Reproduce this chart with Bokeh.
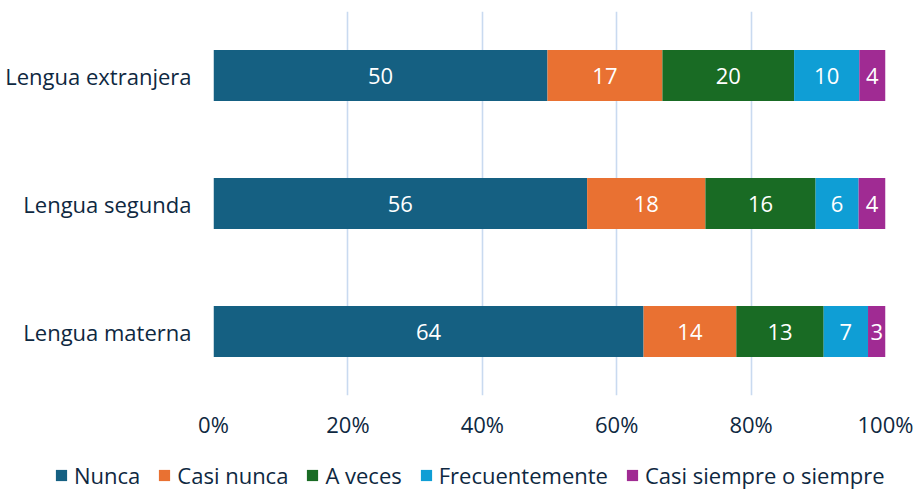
from bokeh.plotting import figure
from bokeh.layouts import column
from bokeh.models import ColumnDataSource, FactorRange, Range1d, FixedTicker, PrintfTickFormatter, Legend
from bokeh.core.properties import value
from bokeh.embed import file_html
from bokeh.resources import INLINE

# ---- data ----
categories = ["Lengua extranjera", "Lengua segunda", "Lengua materna"]
series = ["Nunca", "Casi nunca", "A veces", "Frecuentemente", "Casi siempre o siempre"]
nunca = [49.7, 55.6, 64.0]
casi_nunca = [17.1, 17.6, 13.8]
a_veces = [19.6, 16.4, 13.0]
frecuentemente = [9.7, 6.4, 6.6]
casi_siempre = [3.9, 4.0, 2.6]
x_ticks = [0, 20, 40, 60, 80, 100]
colors = ["#156082", "#E97132", "#196B24", "#0F9ED5", "#A02B93"]

FONT = "Open Sans"
TXT = "#0E2841"

vals = [nunca, casi_nunca, a_veces, frecuentemente, casi_siempre]
keys = ["s0", "s1", "s2", "s3", "s4"]
data = {"cat": categories}
for k, v in zip(keys, vals):
    data[k] = v
source = ColumnDataSource(data)

yr = FactorRange(factors=categories[::-1], range_padding=0)
xr = Range1d(0, 100)

p = figure(width=918, height=450, output_backend="svg", toolbar_location=None,
           y_range=yr, x_range=xr,
           min_border_left=213, min_border_right=33, min_border_top=11, min_border_bottom=55)
p.frame_align = False

renderers = p.hbar_stack(keys, y="cat", height=0.4, color=colors, line_color=None, source=source)

# labels
lx, ly, lt = [], [], []
for i, c in enumerate(categories):
    cum = 0.0
    for v in vals:
        lx.append(cum + v[i] / 2.0)
        ly.append(c)
        lt.append(f"{round(v[i]):d}")
        cum += v[i]
p.text(x=lx, y=ly, text=lt, text_align="center", text_baseline="middle",
       text_color="white", text_font=value(FONT), text_font_size="22px")

p.outline_line_color = None
p.ygrid.grid_line_color = None
p.xgrid.grid_line_color = "#C9DAF0"
p.xgrid.grid_line_width = 1.6
p.xaxis.ticker = FixedTicker(ticks=x_ticks)
p.xaxis.formatter = PrintfTickFormatter(format="%d%%")
for ax in (p.xaxis[0], p.yaxis[0]):
    ax.axis_line_color = None
    ax.major_tick_line_color = None
    ax.minor_tick_line_color = None
    ax.major_tick_out = 0
    ax.major_tick_in = 0
    ax.major_label_text_font = FONT
    ax.major_label_text_font_size = "22px"
    ax.major_label_text_color = TXT
p.xaxis.major_label_standoff = 13
p.yaxis.major_label_standoff = 22

# legend strip (hidden copies of the bar renderers supply the legend glyphs)
p2 = figure(width=918, height=40, output_backend="svg", toolbar_location=None,
            x_range=xr, y_range=yr,
            min_border_left=0, min_border_right=0, min_border_top=0, min_border_bottom=0)
p2.frame_align = False
p2.axis.visible = False
p2.grid.visible = False
p2.outline_line_color = None
leg_rs = p2.hbar_stack(keys, y="cat", height=0.4, color=colors, line_color=None, source=source)
for r in leg_rs:
    r.visible = False
legend = Legend(items=[(s, [r]) for s, r in zip(series, leg_rs)],
                orientation="horizontal", location=(54, 0),
                label_text_font=FONT, label_text_font_size="22px", label_text_color=TXT,
                label_height=22, inactive_fill_alpha=0,
                glyph_width=14, glyph_height=14, label_standoff=6, spacing=17,
                border_line_color=None, background_fill_alpha=0, padding=0, margin=0)
p2.add_layout(legend, "center")

open("out.html", "w").write(file_html(column(p, p2, spacing=0), INLINE))
